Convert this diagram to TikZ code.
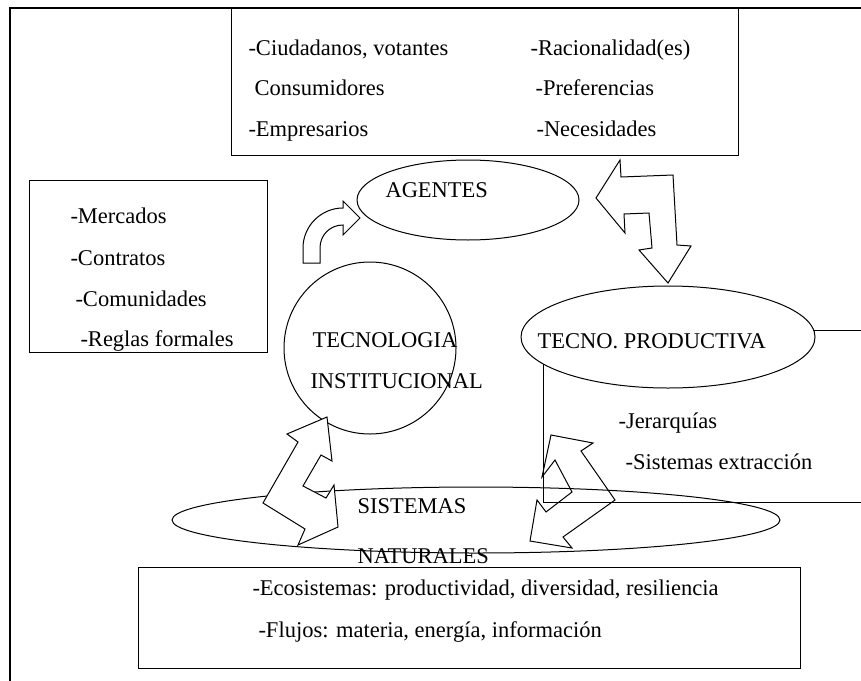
\documentclass[tikz,border=0pt]{standalone}
\usepackage{fontspec}
\setmainfont{Liberation Serif}
\usepackage{tikz}
\tikzset{lbl/.style={anchor=base west, inner sep=0pt, font=\fontsize{22.5}{27}\selectfont}}
\tikzset{frame/.style={line width=2pt}}

\begin{document}
\begin{tikzpicture}[x=1pt,y=-1pt,line width=1pt]

  \useasboundingbox (0,0) rectangle (861,680);

  \begin{scope}
    \clip (0,0) rectangle (861,680);
    \draw[frame] (10,700) -- (10,8) -- (880,8); %% outer frame
    \draw (543,330) rectangle (880,502); %% jerarquias box
  \end{scope}

  %% boxes
  \draw (231,8) rectangle (738,155);
  \draw (29,180) rectangle (267,352);
  \draw (138,567) rectangle (800,668);

  %% ellipses and circle
  \draw (468,200) ellipse [x radius=111pt, y radius=40pt];
  \draw (370,348) circle [radius=86pt];
  \draw[fill=white] (668,337) ellipse [x radius=147pt, y radius=51pt];
  \draw (476,520) ellipse [x radius=304pt, y radius=33pt];

  %% top box
  \node[lbl] (ciud) at (248,55) {-Ciudadanos, votantes};
  \node[lbl] (rac) at (530,55) {-Racionalidad(es)};
  \node[lbl] (cons) at (254,95) {Consumidores};
  \node[lbl] (pref) at (535,95) {-Preferencias};
  \node[lbl] (emp) at (248,136) {-Empresarios};
  \node[lbl] (nec) at (536,136) {-Necesidades};

  %% left box
  \node[lbl] (merc) at (70,223) {-Mercados};
  \node[lbl] (contr) at (70,265) {-Contratos};
  \node[lbl] (comu) at (75,306) {-Comunidades};
  \node[lbl] (reglas) at (80,346) {-Reglas formales};

  \node[lbl] (agentes) at (385,197) {AGENTES};
  \node[lbl] (tecno) at (312,347) {TECNOLOGIA};
  \node[lbl] (inst) at (310,388) {INSTITUCIONAL};
  \node[lbl] (prod) at (537,348) {TECNO. PRODUCTIVA};
  \node[lbl] (jer) at (618,428) {-Jerarquías};
  \node[lbl] (extr) at (625,469) {-Sistemas extracción};
  \node[lbl] (sist) at (357,513) {SISTEMAS};
  \node[lbl] (nat) at (357,563) {NATURALES};
  \node[lbl] (eco) at (252,595) {-Ecosistemas: productividad, diversidad, resiliencia};
  \node[lbl] (flu) at (258,637) {-Flujos: materia, energía, información};

  %% bent arrow to agentes
  \draw[fill=white] (303,263) -- (303,248) .. controls (303,226) and (321,208) .. (343,208)
    -- (343,201) -- (360,218) -- (343,235) -- (343,225)
    .. controls (330,225) and (320,235) .. (320,248) -- (320,263) -- cycle;

  %% double arrow agentes - produccion
  \draw[fill=white] (596,198) -- (620,160) -- (621,177) -- (673,175) -- (677,245) -- (691,246)
    -- (668,283) -- (639,250) -- (652,248) -- (649,213) -- (624,214) -- (625,233) -- cycle;

  %% zigzag arrows to sistemas naturales
  \draw[fill=white] (327,417) -- (332,461) -- (321,455) -- (303,486) -- (326,498) -- (334,485)
    -- (338,527) -- (298,545) -- (305,529) -- (263,503) -- (298,442) -- (287,434) -- cycle;
  \draw (551,435) -- (593,443) -- (581,451) -- (615,500) -- (563,537) -- (572,548)
    -- (530,541) -- (537,500) -- (546,512) -- (572,492) -- (555,460) -- (542,477) -- cycle;

\end{tikzpicture}
\end{document}
